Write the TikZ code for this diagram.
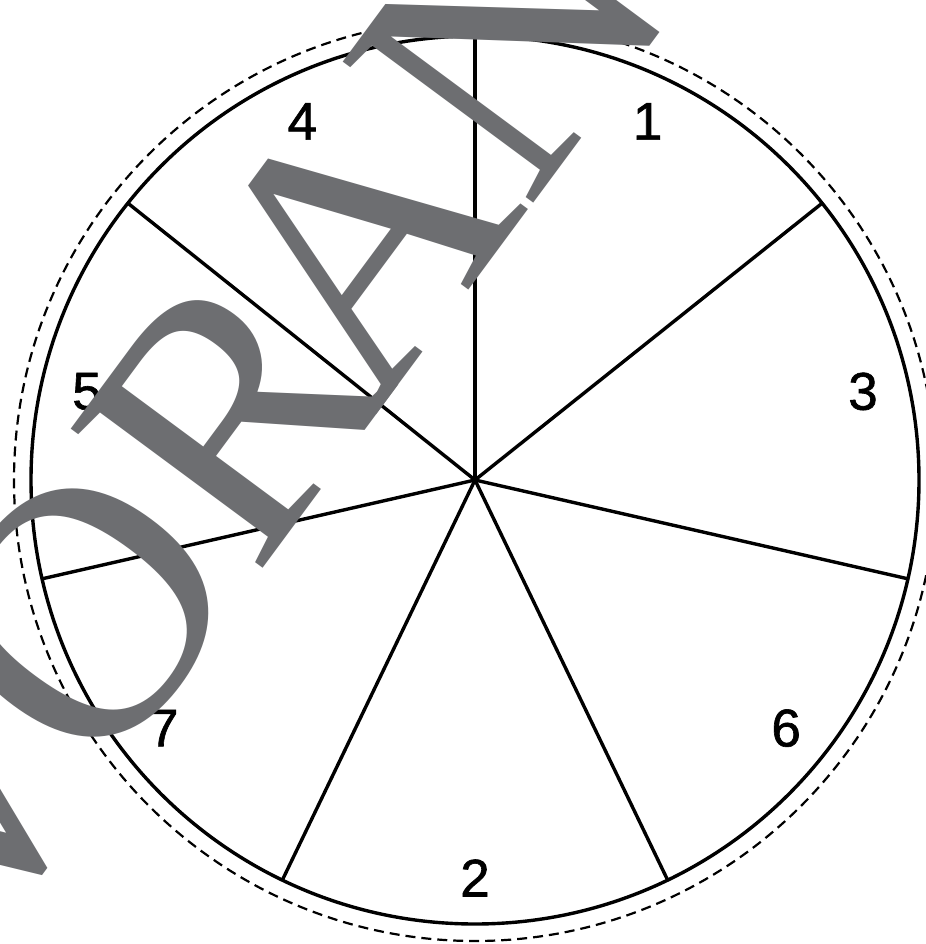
\documentclass[tikz,border=0pt]{standalone}
\usepackage{fontspec}
\setmainfont{Liberation Serif}
\newfontfamily\labelfont[FakeBold=1.2]{Liberation Sans}
\usetikzlibrary{calc}
\definecolor{wmgrey}{RGB}{109,110,113}
\tikzset{
  rim/.style={line width=3.4bp, draw=black},
  outerrim/.style={line width=2.2bp, draw=black, dash pattern=on 10bp off 6bp},
  spoke/.style={line width=3.4bp, draw=black},
  lab/.style={inner sep=0pt, font=\labelfont\fontsize{53bp}{53bp}\selectfont, text=black},
  wm/.style={inner sep=0pt, font=\fontsize{362bp}{362bp}\selectfont, text=wmgrey}
}
\begin{document}
\begin{tikzpicture}[x=1bp,y=-1bp]
\useasboundingbox (0,0) rectangle (926,944);
\clip (0,0) rectangle (926,944);
\fill[white] (0,0) rectangle (926,944);
\coordinate (c) at (475,480);
\draw[outerrim] (c) circle[radius=461];
\draw[rim] (c) circle[radius=444];
\foreach \k in {0,...,6}{
  \coordinate (p\k) at ($(c)+({-90+\k*360/7}:444)$);
  \draw[spoke] (c) -- (p\k);
}
\foreach \k/\t in {0/1,1/3,2/6,3/2,4/7,5/5,6/4}{
  \node[lab] (l\k) at ($(c)+({-90+360/14+\k*360/7}:398)$) {\t};
}
\node[wm, anchor=base west, rotate=53.5] (wm) at (-37.4,974.7) {V\kern-30bp OR\kern-42bp A\kern-5bp NSICHT};
\end{tikzpicture}
\end{document}
